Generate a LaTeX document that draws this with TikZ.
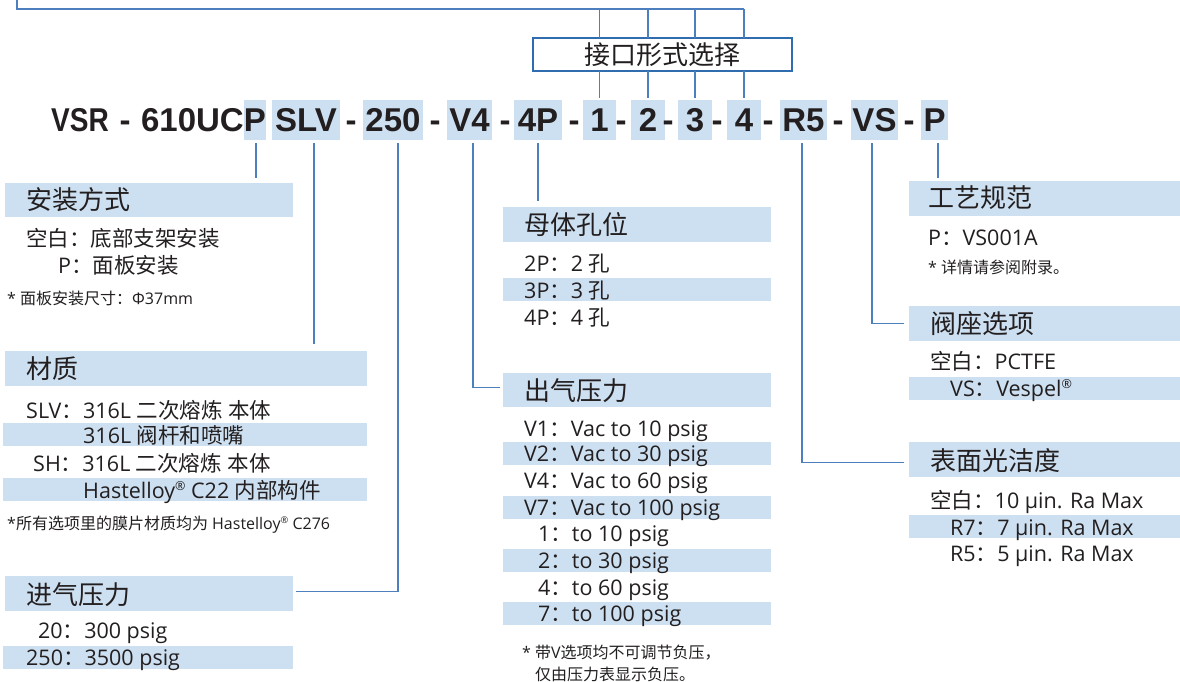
\documentclass[tikz,border=0pt]{standalone}
\usepackage{fontspec}
\usepackage{graphicx}
\setmainfont{Open Sans}
\newfontfamily\cjk{Noto Sans CJK SC}
\newfontfamily\codefont{Liberation Sans}
\newcommand\cn[1]{{\cjk #1}}
\newcommand\reg{\raisebox{0.33em}{\scalebox{0.58}{®}}}
\definecolor{band}{HTML}{CDE0F1}
\definecolor{conncol}{HTML}{4D7FBF}
\definecolor{framecol}{HTML}{2F6DB0}
\definecolor{txt}{HTML}{231F20}
\tikzset{
  conn/.style={draw=conncol, line width=1.3bp},
  cbox/.style={fill=band, minimum height=40bp, inner sep=0, text height=24bp, text depth=0bp,
    font=\codefont\bfseries\fontsize{33bp}{36bp}\selectfont, text=txt},
  ctext/.style={inner sep=0, text height=24bp, text depth=0bp,
    font=\codefont\bfseries\fontsize{33bp}{36bp}\selectfont, text=txt},
  hbox/.style={fill=band, anchor=north west, inner sep=0},
  head/.style={anchor=base west, inner sep=0, text=txt, font=\cjk\fontsize{26bp}{30bp}\selectfont},
  body/.style={anchor=base west, inner sep=0, text=txt, font=\fontsize{21.5bp}{25bp}\selectfont},
  note/.style={anchor=base west, inner sep=0, text=txt, font=\fontsize{16bp}{19bp}\selectfont},
}
\begin{document}
\begin{tikzpicture}[x=1bp,y=-1bp]
\path[use as bounding box, fill=white] (0,0) rectangle (1180,682);

% ---- code row ----
\node[ctext, anchor=west] (cVSR) at (51,120) {\scalebox{0.85}[1]{VSR}};
\node[ctext] (d0) at (125,120) {-};
\node[ctext, anchor=east] (c610) at (244,120) {610UC};
\node[cbox, minimum width=22bp] (cP1) at (255,120) {P};
\node[cbox, minimum width=68bp] (cSLV) at (306,120) {SLV};
\node[ctext] (d1) at (351,120) {-};
\node[cbox, minimum width=60bp] (c250) at (393,120) {250};
\node[ctext] (d2) at (435,120) {-};
\node[cbox, minimum width=45bp] (cV4) at (469.5,120) {V4};
\node[ctext] (d3) at (505,120) {-};
\node[cbox, minimum width=48bp] (c4P) at (538,120) {4P};
\node[ctext] (d4) at (574,120) {-};
\node[cbox, minimum width=33bp] (c1) at (599.5,120) {1};
\node[ctext] (d5) at (621,120) {-};
\node[cbox, minimum width=34bp] (c2) at (648,120) {2};
\node[ctext] (d6) at (668,120) {-};
\node[cbox, minimum width=34bp] (c3) at (695,120) {3};
\node[ctext] (d7) at (717,120) {-};
\node[cbox, minimum width=34bp] (c4) at (744,120) {4};
\node[ctext] (d8) at (768,120) {-};
\node[cbox, minimum width=47bp] (cR5) at (803.5,120) {R5};
\node[ctext] (d9) at (838,120) {-};
\node[cbox, minimum width=47bp] (cVS) at (874.5,120) {VS};
\node[ctext] (d10) at (909,120) {-};
\node[cbox, minimum width=27bp] (cP2) at (934.5,120) {P};

% ---- connection-type box ----
\node[draw=framecol, line width=2.2bp, fill=white, minimum width=258.8bp, minimum height=32.8bp,
  inner sep=0, text=txt, font=\cjk\fontsize{26bp}{30bp}\selectfont] (tsel) at (662.5,54.5) {接口形式选择};
\coordinate (topL) at (17,0);
\coordinate (topY) at (0,9);
\draw[conn] (topL) |- (c4.north |- topY);
\foreach \n in {c1,c2,c3,c4} {
  \draw[conn] (\n.north |- topY) -- ([yshift=-1.1bp]\n.north |- tsel.north);
  \draw[conn] ([yshift=1.1bp]\n.north |- tsel.south) -- ([yshift=2bp]\n.north);
}

% ---- section headers ----
\node[hbox, minimum width=288bp, minimum height=34bp] (hMount) at (5,183) {};
\node[hbox, minimum width=362bp, minimum height=35bp] (hMat) at (5,351) {};
\node[hbox, minimum width=288bp, minimum height=35bp] (hIn) at (5,576) {};
\node[hbox, minimum width=268bp, minimum height=35bp] (hHole) at (503,207) {};
\node[hbox, minimum width=268bp, minimum height=34bp] (hOut) at (503,373) {};
\node[hbox, minimum width=271bp, minimum height=35bp] (hSpec) at (909,181) {};
\node[hbox, minimum width=271bp, minimum height=35bp] (hSeat) at (909,306) {};
\node[hbox, minimum width=271bp, minimum height=35bp] (hSurf) at (909,442) {};

% ---- bands ----
\fill[band] (3,423) rectangle (367,446);
\fill[band] (3,478) rectangle (367,501);
\fill[band] (3,646) rectangle (293,669);
\fill[band] (503,278) rectangle (771,301);
\fill[band] (503,442) rectangle (771,465);
\fill[band] (503,496) rectangle (771,519);
\fill[band] (503,549) rectangle (771,572);
\fill[band] (503,602) rectangle (771,625);
\fill[band] (909,377) rectangle (1180,400);
\fill[band] (909,515) rectangle (1180,538);

% ---- connectors below code ----
\draw[conn] ([xshift=1bp,yshift=-3bp]cP1.south) -- ++(0,35);
\draw[conn] ([xshift=8bp,yshift=-3bp]cSLV.south) -- ++(0,201);
\draw[conn] ([xshift=5bp,yshift=-3bp]c250.south) |- ([xshift=3bp,yshift=2bp]hIn.east);
\draw[conn] ([xshift=3.5bp,yshift=-3bp]cV4.south) |- ([xshift=-3bp,yshift=3bp]hOut.west);
\draw[conn] ([yshift=-3bp]c4P.south) -- ++(0,58);
\draw[conn] ([xshift=-1.5bp,yshift=-3bp]cR5.south) |- ([xshift=-5bp,yshift=-3bp]hSurf.west);
\draw[conn] ([xshift=-2.5bp,yshift=-3bp]cVS.south) |- ([xshift=-5bp]hSeat.west);
\draw[conn] ([xshift=3.5bp,yshift=-3bp]cP2.south) -- ++(0,35);

% ---- 安装方式 ----
\node[head] (tMount) at (26,210) {安装方式};
\node[body] (m1) at (26,246) {\cn{空白：底部支架安装}};
\node[body] (m2) at (58,273) {P\cn{：面板安装}};
\node[note] (m3) at (7,304) {* \cn{面板安装尺寸：}Φ37mm};

% ---- 材质 ----
\node[head] (tMat) at (26,378) {材质};
\node[body] (a1) at (26,418) {SLV\cn{：}316L \cn{二次熔炼} \cn{本体}};
\node[body] (a2) at (83,443) {316L \cn{阀杆和喷嘴}};
\node[body] (a3) at (33,471) {SH\cn{：}316L \cn{二次熔炼} \cn{本体}};
\node[body] (a4) at (83,498) {Hastelloy\reg{} C22 \cn{内部构件}};
\node[note] (a5) at (7,529) {*\cn{所有选项里的膜片材质均为} Hastelloy\reg{} C276};

% ---- 进气压力 ----
\node[head] (tIn) at (26,604) {进气压力};
\node[body] (i1) at (38,638) {20\cn{：}300 psig};
\node[body] (i2) at (26,665) {250\cn{：}3500 psig};

% ---- 母体孔位 ----
\node[head] (tHole) at (524,235) {母体孔位};
\node[body] (h1) at (524,271) {2P\cn{：}2 \cn{孔}};
\node[body] (h2) at (524,298) {3P\cn{：}3 \cn{孔}};
\node[body] (h3) at (524,325) {4P\cn{：}4 \cn{孔}};

% ---- 出气压力 ----
\node[head] (tOut) at (524,400) {出气压力};
\node[body] (o1) at (524,436) {V1\cn{：}Vac to 10 psig};
\node[body] (o2) at (524,461) {V2\cn{：}Vac to 30 psig};
\node[body] (o3) at (524,488) {V4\cn{：}Vac to 60 psig};
\node[body] (o4) at (524,515) {V7\cn{：}Vac to 100 psig};
\node[body] (o5) at (538,541) {1\cn{：}to 10 psig};
\node[body] (o6) at (538,568) {2\cn{：}to 30 psig};
\node[body] (o7) at (538,595) {4\cn{：}to 60 psig};
\node[body] (o8) at (538,621) {7\cn{：}to 100 psig};
\node[note] (o9) at (522,658) {* \cn{带}V\cn{选项均不可调节负压，}};
\node[note] (o10) at (535,680.5) {\cn{仅由压力表显示负压。}};

% ---- 工艺规范 ----
\node[head] (tSpec) at (928,208) {工艺规范};
\node[body] (s1) at (928,245) {P\cn{：}VS001A};
\node[note] (s2) at (928,273) {* \cn{详情请参阅附录。}};

% ---- 阀座选项 ----
\node[head] (tSeat) at (930,333) {阀座选项};
\node[body] (v1) at (930,369) {\cn{空白：}PCTFE};
\node[body] (v2) at (950,396) {VS\cn{：}Vespel\reg};

% ---- 表面光洁度 ----
\node[head] (tSurf) at (930,470) {表面光洁度};
\node[body] (r1) at (930,508) {\cn{空白：}10 μin. Ra Max};
\node[body] (r2) at (950,535) {R7\cn{：}7 μin. Ra Max};
\node[body] (r3) at (950,561) {R5\cn{：}5 μin. Ra Max};
\end{tikzpicture}
\end{document}
